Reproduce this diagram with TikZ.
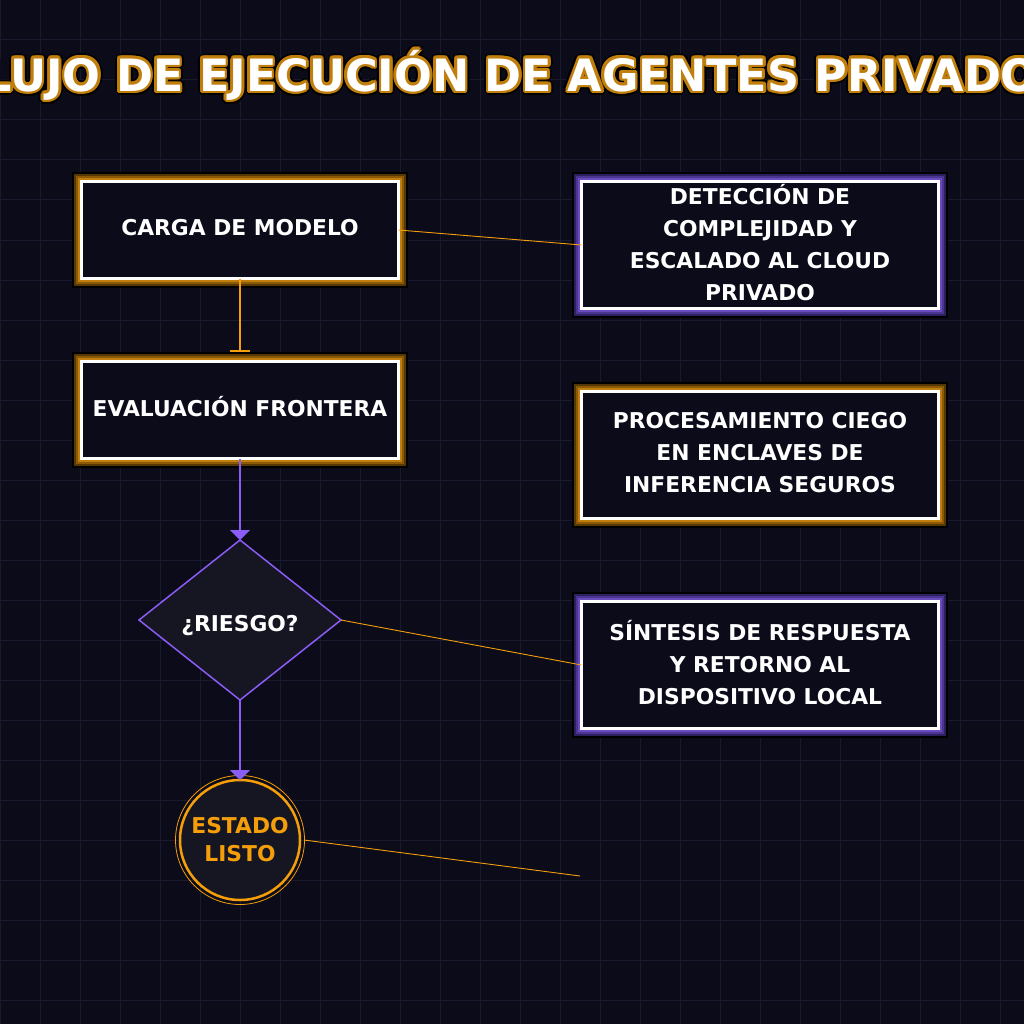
\documentclass[tikz,border=0pt]{standalone}
\usepackage{fontspec}
\setmainfont{DejaVu Sans}
\usetikzlibrary{shapes.geometric,arrows.meta}

\definecolor{bgdark}{HTML}{0B0B1A}
\definecolor{gridline}{HTML}{1A1A2E}
\definecolor{nodefill}{HTML}{161622}
\definecolor{amber}{HTML}{F59E0B}
\definecolor{amberlite}{HTML}{C07E0C}
\definecolor{ambermid}{HTML}{8A5A06}
\definecolor{amberdeep}{HTML}{553803}
\definecolor{violet}{HTML}{8B5CF6}
\definecolor{violetlite}{HTML}{6A4BBE}
\definecolor{violetmid}{HTML}{4A3590}
\definecolor{violetdeep}{HTML}{2C2060}

\newcommand{\titletxt}{FLUJO DE EJECUCIÓN DE AGENTES PRIVADOS}
\newcommand{\oneline}[1]{\raisebox{0pt}[12pt][0pt]{#1}}

\begin{document}
\begin{tikzpicture}[x=1pt,y=-1pt,
  boxfont/.style={font=\bfseries\fontsize{21.8}{32}\selectfont},
  gbox/.style={rectangle,draw=white,line width=3,fill=bgdark,text=white,
    boxfont,align=center,inner sep=0,outer sep=0},
  boxtext/.style={text=white,boxfont,align=center,inner sep=0,yshift=2.5},
  glowamber/.style={gbox,
    preaction={draw=black,line width=19},
    preaction={draw=amberdeep,line width=15},
    preaction={draw=ambermid,line width=11},
    preaction={draw=amberlite,line width=7}},
  glowviolet/.style={gbox,
    preaction={draw=black,line width=19},
    preaction={draw=violetdeep,line width=15},
    preaction={draw=violetmid,line width=11},
    preaction={draw=violetlite,line width=7}},
  leftbox/.style={minimum width=317,minimum height=97},
  rightbox/.style={minimum width=357,minimum height=127},
  decision/.style={diamond,draw=violet,line width=1.5,fill=nodefill,text=white,
    boxfont,inner sep=0,outer sep=0,minimum width=202,minimum height=160,aspect=1.26,
    text height=22,text depth=0},
  endstate/.style={circle,draw=amber,line width=2.5,fill=nodefill,text=amber,
    font=\bfseries\fontsize{21.8}{28}\selectfont,align=center,inner sep=0,
    outer sep=0,minimum size=120},
  titlefont/.style={font=\bfseries\fontsize{44.5}{52}\selectfont,inner sep=0},
  flow/.style={line width=2},
  link/.style={amber,line width=0.9}]

\useasboundingbox (0,0) rectangle (1024,1024);
\fill[bgdark] (0,0) rectangle (1024,1024);
\foreach \g in {0,40,...,1000} {
  \draw[gridline,line width=1] (\g,0) -- (\g,1024);
  \draw[gridline,line width=1] (0,\g) -- (1024,\g);
}

% title with glow
\foreach \a in {0,30,...,330}
  \node[titlefont,text=black] (tb\a) at ([shift={(\a:4.5)}]512,75) {\titletxt};
\foreach \a in {0,30,...,330}
  \node[titlefont,text=amberlite] (ta\a) at ([shift={(\a:2.7)}]512,75) {\titletxt};
\node[titlefont,text=white] (title) at (512,75) {\titletxt};

% left column
\node[glowamber,leftbox] (carga) at (240,230) {\oneline{CARGA DE MODELO}};
\node[glowamber,leftbox] (frontera) at (240,410) {\oneline{EVALUACIÓN FRONTERA}};
\node[decision] (riesgo) at (240,620) {¿RIESGO?};
\node[endstate] (listo) at (240,840) {ESTADO\\LISTO};
\draw[amber,line width=0.8] (listo.center) circle (64.5);

% right column
\node[glowviolet,rightbox,label={[boxtext]center:{DETECCIÓN DE\\COMPLEJIDAD Y\\ESCALADO AL CLOUD\\PRIVADO}}]
  (escalado) at (760,245) {};
\node[glowamber,rightbox,label={[boxtext]center:{PROCESAMIENTO CIEGO\\EN ENCLAVES DE\\INFERENCIA SEGUROS}}]
  (enclave) at (760,455) {};
\node[glowviolet,rightbox,label={[boxtext]center:{SÍNTESIS DE RESPUESTA\\Y RETORNO AL\\DISPOSITIVO LOCAL}}]
  (sintesis) at (760,665) {};
\coordinate (libre) at (580,876);

% connectors
\draw[flow,amber,-{Bar[width=20,line width=2]},shorten >=10] (carga) -- (frontera);
\draw[flow,violet,-{Triangle[width=20,length=10]}] (frontera) -- (riesgo.north);
\draw[flow,violet,-{Triangle[width=20,length=10]}] (riesgo.south) -- (listo.north);
\draw[link] (carga.east) -- (escalado.west);
\draw[link] (riesgo.east) -- (sintesis.west);
\draw[link] ([xshift=4]listo.east) -- (libre);
\end{tikzpicture}
\end{document}
